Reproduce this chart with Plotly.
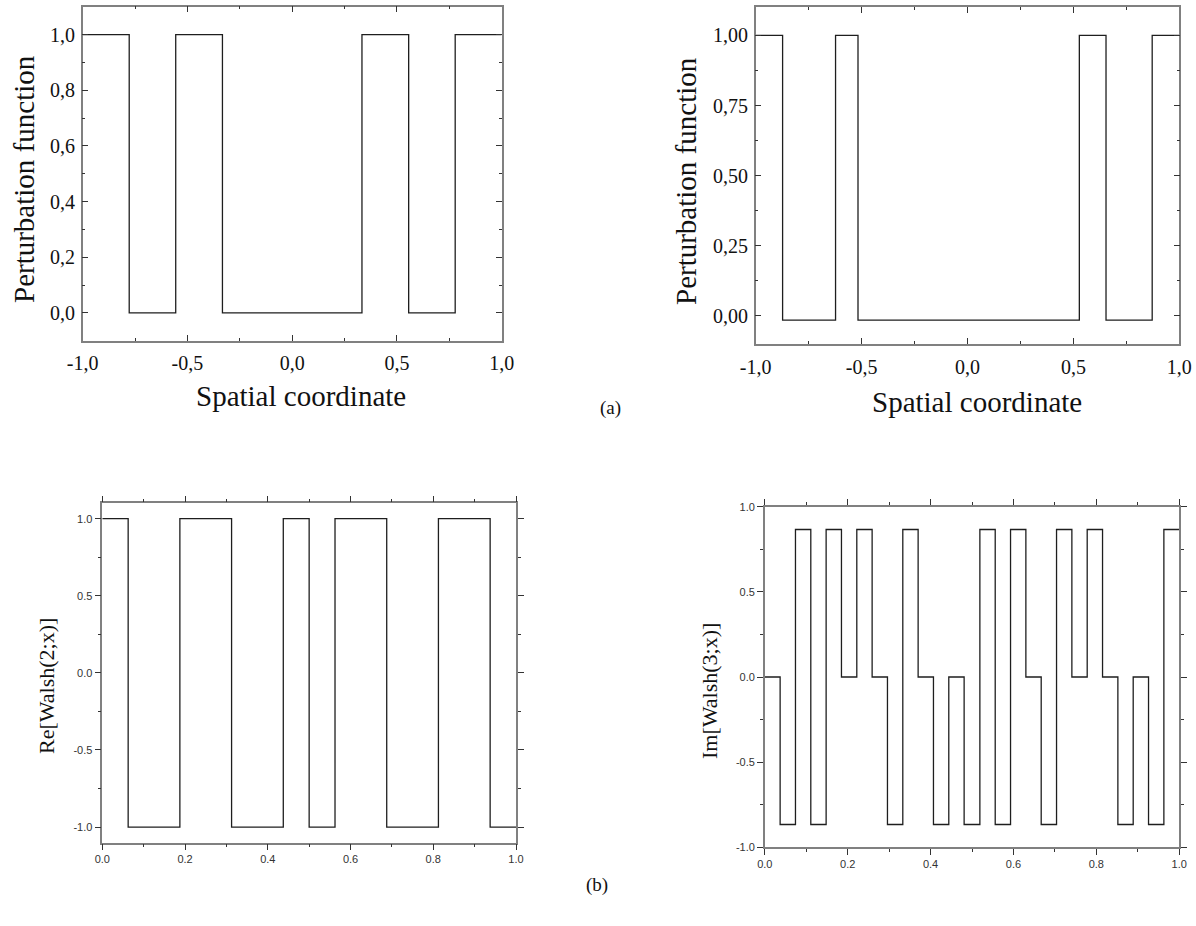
import plotly.graph_objects as go

# ---------------- data ----------------
# (a) left: perturbation function (step edges and levels)
p1_edges = [-1.0, -0.778, -0.556, -0.333, 0.333, 0.556, 0.778, 1.0]
p1_levels = [1.0, 0.0, 1.0, 0.0, 1.0, 0.0, 1.0]

# (a) right: perturbation function
p2_edges = [-1.0, -0.873, -0.623, -0.517, 0.528, 0.654, 0.872, 1.0]
p2_levels = [1.0, -0.015, 1.0, -0.015, 1.0, -0.015, 1.0]

# (b) left: Re[Walsh(2;x)]
p3_edges = [0.0, 0.0625, 0.1875, 0.3125, 0.4375, 0.5, 0.5625, 0.6875, 0.8125, 0.9375, 1.0]
p3_levels = [1.0, -1.0, 1.0, -1.0, 1.0, -1.0, 1.0, -1.0, 1.0, -1.0]

# (b) right: Im[Walsh(3;x)]
p4_edges = [0.0, 0.037, 0.074, 0.111, 0.148, 0.185, 0.222, 0.259, 0.296, 0.333,
            0.370, 0.407, 0.444, 0.481, 0.519, 0.556, 0.593, 0.630, 0.667, 0.704,
            0.741, 0.778, 0.815, 0.852, 0.889, 0.926, 0.963, 1.0]
p4_levels = [0.0, -0.866, 0.866, -0.866, 0.866, 0.0, 0.866, 0.0, -0.866, 0.866,
             0.0, -0.866, 0.0, -0.866, 0.866, -0.866, 0.866, 0.0, -0.866, 0.866,
             0.0, 0.866, 0.0, -0.866, 0.0, -0.866, 0.866]

# tick labels
p1_xticks = [-1.0, -0.5, 0.0, 0.5, 1.0]
p1_xtext = ["-1,0", "-0,5", "0,0", "0,5", "1,0"]
p1_xminor = [-0.75, -0.25, 0.25, 0.75]
p1_yticks = [0.0, 0.2, 0.4, 0.6, 0.8, 1.0]
p1_ytext = ["0,0", "0,2", "0,4", "0,6", "0,8", "1,0"]
p1_yminor = [0.1, 0.3, 0.5, 0.7, 0.9]

p2_yticks = [0.0, 0.25, 0.5, 0.75, 1.0]
p2_ytext = ["0,00", "0,25", "0,50", "0,75", "1,00"]
p2_yminor = [0.125, 0.375, 0.625, 0.875]

b_xticks = [0.0, 0.2, 0.4, 0.6, 0.8, 1.0]
b_xtext = ["0.0", "0.2", "0.4", "0.6", "0.8", "1.0"]
b_xminor = [0.1, 0.3, 0.5, 0.7, 0.9]
b_yticks = [-1.0, -0.5, 0.0, 0.5, 1.0]
b_ytext = ["-1.0", "-0.5", "0.0", "0.5", "1.0"]
b_yminor = [-0.75, -0.25, 0.25, 0.75]

# the page's body margin is removed (post_script), so the figure fills the window
OFF = 0
W, H = 1196, 926


def dom_x(a, b):
    return [(a - OFF) / W, (b - OFF) / W]


def dom_y(top, bottom):
    return [1 - (bottom - OFF) / H, 1 - (top - OFF) / H]


LINE = dict(color="#1e1e1e", width=1.3)
SERIF = "Liberation Serif"
SANS = "Liberation Sans"

fig = go.Figure()
fig.add_trace(go.Scatter(x=p1_edges, y=p1_levels + [p1_levels[-1]], mode="lines",
                         line_shape="hv", line=LINE, xaxis="x", yaxis="y", showlegend=False))
fig.add_trace(go.Scatter(x=p2_edges, y=p2_levels + [p2_levels[-1]], mode="lines",
                         line_shape="hv", line=LINE, xaxis="x2", yaxis="y2", showlegend=False))
fig.add_trace(go.Scatter(x=p3_edges, y=p3_levels + [p3_levels[-1]], mode="lines",
                         line_shape="hv", line=LINE, xaxis="x3", yaxis="y3", showlegend=False))
fig.add_trace(go.Scatter(x=p4_edges, y=p4_levels + [p4_levels[-1]], mode="lines",
                         line_shape="hv", line=LINE, xaxis="x4", yaxis="y4", showlegend=False))


def top_axis(domain, rng, tv, tt, minor, anchor, is_x):
    d = dict(domain=domain, range=rng, anchor=anchor, showline=True, linecolor="#808080",
             linewidth=1.5, mirror="ticks", ticks="inside", ticklen=6, tickwidth=1,
             tickcolor="#333", showgrid=False, zeroline=False, tickmode="array",
             automargin=False, ticklabeloverflow="allow",
             tickvals=tv, ticktext=tt, tickfont=dict(family=SERIF, size=20, color="#111"),
             minor=dict(ticks="inside", ticklen=3, tickwidth=1, tickcolor="#333",
                        tickmode="array", tickvals=minor, showgrid=False))
    d["ticklabelstandoff"] = 4 if is_x else 2
    return d


def bot_axis(domain, rng, tv, tt, minor, anchor):
    return dict(domain=domain, range=rng, anchor=anchor, showline=True, linecolor="#808080",
                linewidth=1.5, mirror="ticks", ticks="outside", ticklen=6, tickwidth=1,
                tickcolor="#333", showgrid=False, zeroline=False, tickmode="array",
                automargin=False, ticklabeloverflow="allow",
                tickvals=tv, ticktext=tt, tickfont=dict(family=SANS, size=11, color="#333"),
                minor=dict(ticks="outside", ticklen=3, tickwidth=1, tickcolor="#333",
                           tickmode="array", tickvals=minor, showgrid=False))


fig.update_layout(
    width=W, height=H, margin=dict(l=0, r=0, t=0, b=0, pad=0, autoexpand=False),
    paper_bgcolor="white", plot_bgcolor="white",
    xaxis=top_axis(dom_x(82.7, 501.7), [-1, 1], p1_xticks, p1_xtext, p1_xminor, "y", True),
    yaxis=top_axis(dom_y(6.7, 340.7), [-0.1, 1.1], p1_yticks, p1_ytext, p1_yminor, "x", False),
    xaxis2=top_axis(dom_x(755.7, 1179.3), [-1, 1], p1_xticks, p1_xtext, p1_xminor, "y2", True),
    yaxis2=top_axis(dom_y(7.3, 344.0), [-0.1, 1.1], p2_yticks, p2_ytext, p2_yminor, "x2", False),
    xaxis3=bot_axis(dom_x(102.3, 516.0), [0, 1], b_xticks, b_xtext, b_xminor, "y3"),
    yaxis3=bot_axis(dom_y(503.3, 842.5), [-1.1, 1.1], b_yticks, b_ytext, b_yminor, "x3"),
    xaxis4=bot_axis(dom_x(764.8, 1179.2), [0, 1], b_xticks, b_xtext, b_xminor, "y4"),
    yaxis4=bot_axis(dom_y(506.7, 847.3), [-1, 1], b_yticks, b_ytext, b_yminor, "x4"),
)


def ann(text, px, py, size, angle=0):
    fig.add_annotation(text=text, x=(px - OFF) / W, y=1 - (py - OFF) / H, xref="paper",
                       yref="paper", showarrow=False, xanchor="center", yanchor="middle",
                       textangle=angle, font=dict(family=SERIF, size=size, color="#111"))


ann("Perturbation function", 24, 179, 29, -90)
ann("Spatial coordinate", 301, 396, 29)
ann("Perturbation function", 686, 181, 29, -90)
ann("Spatial coordinate", 977, 402, 29)
ann("Re[Walsh(2;x)]", 46, 686, 22, -90)
ann("Im[Walsh(3;x)]", 709, 691, 22, -90)
ann("(a)", 610, 408, 19)
ann("(b)", 597, 885, 19)

fig.write_html(
    "out.html",
    config={"displayModeBar": False},
    post_script="document.body.style.margin='0';document.body.style.overflow='hidden';",
)
